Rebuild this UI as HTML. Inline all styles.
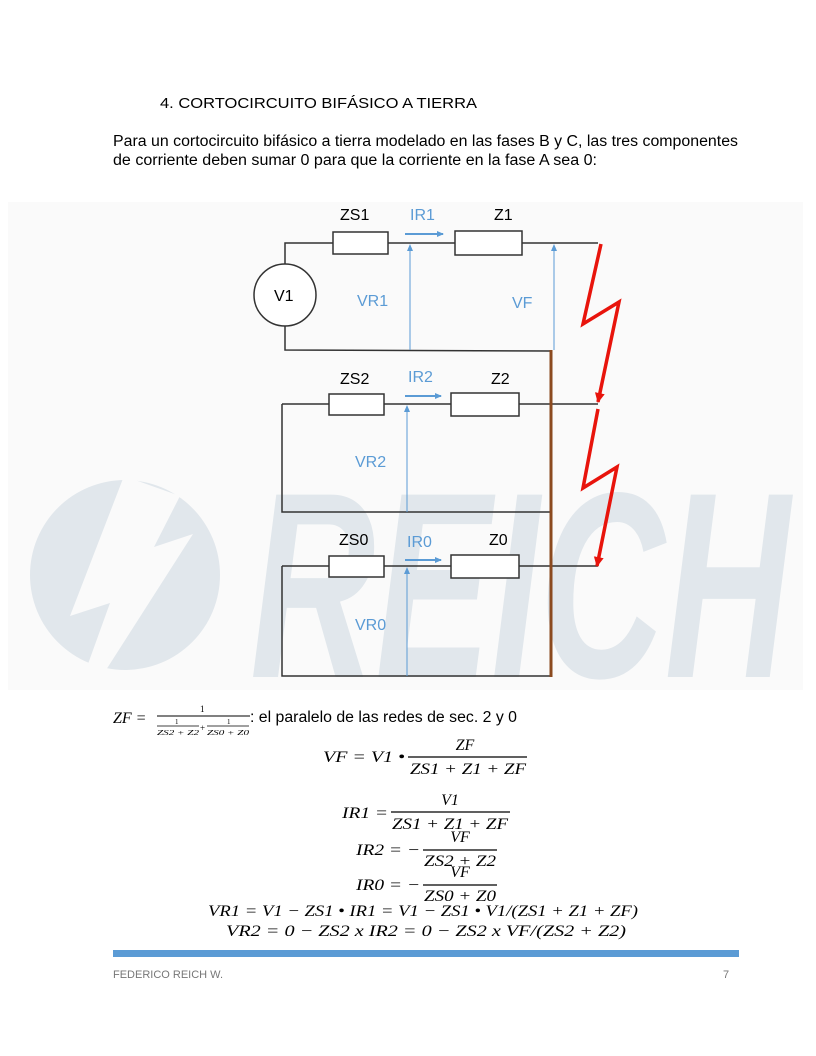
<!DOCTYPE html>
<html><head><meta charset="utf-8"><style>
html,body{margin:0;padding:0;background:#fff;}
body{width:816px;height:1056px;position:relative;overflow:hidden;}
</style></head><body>
<svg width="816" height="1056" viewBox="0 0 816 1056" xmlns="http://www.w3.org/2000/svg" style="position:absolute;left:0;top:0">
<defs>
<marker id="ab" markerWidth="8" markerHeight="8" refX="6" refY="3" orient="auto" markerUnits="userSpaceOnUse"><path d="M0,0 L7,3 L0,6z" fill="#5b9bd5"/></marker>
<marker id="ar" markerWidth="12" markerHeight="12" refX="9" refY="5" orient="auto" markerUnits="userSpaceOnUse"><path d="M0,0 L10,5 L0,10z" fill="#e8140c"/></marker>
</defs>
<g font-family="Liberation Sans, Arial, sans-serif" fill="#000">
<text x="160" y="108" font-size="15" textLength="317" lengthAdjust="spacingAndGlyphs">4.  CORTOCIRCUITO BIFÁSICO A TIERRA</text>
<text x="113" y="146" font-size="15.5" textLength="625" lengthAdjust="spacingAndGlyphs">Para un cortocircuito bifásico a tierra modelado en las fases B y C, las tres componentes</text>
<text x="113" y="165" font-size="15.5" textLength="484" lengthAdjust="spacingAndGlyphs">de corriente deben sumar 0 para que la corriente en la fase A sea 0:</text>
</g>
<rect x="8" y="202" width="795" height="488" fill="#fafafa"/>
<circle cx="125" cy="575" r="95" fill="#e1e7ec"/>
<polygon points="124,476 180,496 154,547 193,534 106,670 88,664 110,603 70,616" fill="#fafafa"/>
<text x="250" y="677" font-family="Liberation Sans, Arial, sans-serif" font-weight="bold" font-style="italic" font-size="265" fill="#e1e7ec" textLength="540" lengthAdjust="spacingAndGlyphs">REICH</text>
<g stroke="#333" stroke-width="1.5" fill="none">
<polyline points="285,264 285,243 333,243"/>
<line x1="388" y1="243" x2="455" y2="243"/>
<line x1="522" y1="243" x2="598" y2="243"/>
<polyline points="285,326 285,350 552,351"/>
<rect x="333" y="232" width="55" height="22" fill="#fff"/>
<rect x="455" y="231" width="67" height="24" fill="#fff"/>
<circle cx="285" cy="295" r="31" fill="#fff"/>
<line x1="282" y1="404" x2="329" y2="404"/>
<line x1="384" y1="404" x2="451" y2="404"/>
<line x1="519" y1="404" x2="598" y2="404"/>
<polyline points="282,404 282,512 550,512"/>
<rect x="329" y="394" width="55" height="21" fill="#fff"/>
<rect x="451" y="393" width="68" height="23" fill="#fff"/>
<line x1="282" y1="566" x2="329" y2="566"/>
<line x1="384" y1="566" x2="451" y2="566"/>
<line x1="519" y1="566" x2="598" y2="566"/>
<polyline points="282,566 282,676 552,676"/>
<rect x="329" y="556" width="55" height="21" fill="#fff"/>
<rect x="451" y="555" width="68" height="23" fill="#fff"/>
</g>
<line x1="551" y1="350" x2="551" y2="677" stroke="#8b4a1f" stroke-width="3"/>
<g stroke="#5b9bd5" stroke-width="1" fill="none">
<line x1="410" y1="350" x2="410" y2="245" marker-end="url(#ab)"/>
<line x1="554" y1="350" x2="554" y2="245" marker-end="url(#ab)"/>
<line x1="407" y1="512" x2="407" y2="406" marker-end="url(#ab)"/>
<line x1="407" y1="676" x2="407" y2="568" marker-end="url(#ab)"/>
<line x1="405" y1="234" x2="443" y2="234" stroke-width="2" marker-end="url(#ab)"/>
<line x1="405" y1="396" x2="441" y2="396" stroke-width="2" marker-end="url(#ab)"/>
<line x1="405" y1="560" x2="441" y2="560" stroke-width="2" marker-end="url(#ab)"/>
</g>
<g stroke="#e8140c" stroke-width="3.5" fill="none" stroke-linejoin="miter">
<polyline points="601,244 583,324 619,302 598,402" marker-end="url(#ar)"/>
<polyline points="598,409 583,488 617,467 597,566" marker-end="url(#ar)"/>
</g>
<g font-family="Liberation Sans, Arial, sans-serif" font-size="16">
<text x="340" y="220" fill="#000">ZS1</text>
<text x="410" y="220" fill="#5b9bd5">IR1</text>
<text x="494" y="220">Z1</text>
<text x="274" y="301">V1</text>
<text x="357" y="306" fill="#5b9bd5">VR1</text>
<text x="512" y="308" fill="#5b9bd5">VF</text>
<text x="340" y="384">ZS2</text>
<text x="408" y="382" fill="#5b9bd5">IR2</text>
<text x="491" y="384">Z2</text>
<text x="355" y="467" fill="#5b9bd5">VR2</text>
<text x="339" y="545">ZS0</text>
<text x="407" y="547" fill="#5b9bd5">IR0</text>
<text x="489" y="545">Z0</text>
<text x="355" y="630" fill="#5b9bd5">VR0</text>
</g>
<g font-family="Liberation Serif, DejaVu Serif, serif" font-style="italic" font-size="16" fill="#000">
<text x="113" y="723">ZF  =</text>
<text x="200" y="712" font-size="9" font-style="normal">1</text>
<line x1="157" y1="716" x2="250" y2="716" stroke="#000" stroke-width="1"/>
<text x="175" y="724" font-size="7" font-style="normal">1</text>
<line x1="157" y1="726" x2="199" y2="726" stroke="#000" stroke-width="0.7"/>
<text x="157" y="735" font-size="7.5" textLength="42" lengthAdjust="spacingAndGlyphs">ZS2 + Z2</text>
<text x="200" y="731" font-size="9" font-style="normal">+</text>
<text x="227" y="724" font-size="7" font-style="normal">1</text>
<line x1="207" y1="726" x2="249" y2="726" stroke="#000" stroke-width="0.7"/>
<text x="207" y="735" font-size="7.5" textLength="42" lengthAdjust="spacingAndGlyphs">ZS0 + Z0</text>
<text x="250" y="722" font-family="Liberation Sans, Arial, sans-serif" font-style="normal" font-size="15.5" textLength="267" lengthAdjust="spacingAndGlyphs">: el paralelo de las redes de sec. 2 y 0</text>

<text x="323" y="762" textLength="82" lengthAdjust="spacingAndGlyphs">VF  =  V1 •</text>
<text x="465" y="750" text-anchor="middle">ZF</text>
<line x1="408" y1="757" x2="527" y2="757" stroke="#000" stroke-width="1.2"/>
<text x="410" y="774" textLength="116" lengthAdjust="spacingAndGlyphs">ZS1 + Z1 + ZF</text>

<text x="342" y="818" textLength="46" lengthAdjust="spacingAndGlyphs">IR1  =</text>
<text x="450" y="805" text-anchor="middle">V1</text>
<line x1="391" y1="812" x2="510" y2="812" stroke="#000" stroke-width="1.2"/>
<text x="392" y="829" textLength="116" lengthAdjust="spacingAndGlyphs">ZS1 + Z1 + ZF</text>

<text x="356" y="855" textLength="64" lengthAdjust="spacingAndGlyphs">IR2  =  −</text>
<text x="460" y="842" text-anchor="middle">VF</text>
<line x1="423" y1="850" x2="497" y2="850" stroke="#000" stroke-width="1.2"/>
<text x="424" y="866" textLength="72" lengthAdjust="spacingAndGlyphs">ZS2 + Z2</text>

<text x="356" y="890" textLength="64" lengthAdjust="spacingAndGlyphs">IR0  =  −</text>
<text x="460" y="877" text-anchor="middle">VF</text>
<line x1="423" y1="885" x2="497" y2="885" stroke="#000" stroke-width="1.2"/>
<text x="424" y="901" textLength="72" lengthAdjust="spacingAndGlyphs">ZS0 + Z0</text>

<text x="208" y="916" textLength="430" lengthAdjust="spacingAndGlyphs">VR1 = V1 − ZS1 • IR1 = V1 − ZS1 • V1/(ZS1 + Z1 + ZF)</text>
<text x="226" y="936" textLength="400" lengthAdjust="spacingAndGlyphs">VR2 = 0   − ZS2 x IR2 =  0 − ZS2 x VF/(ZS2 + Z2)</text>
</g>
<rect x="113" y="950" width="626" height="7" fill="#5b9bd5"/>
<g font-family="Liberation Sans, Arial, sans-serif" font-size="11" fill="#777">
<text x="113" y="978">FEDERICO REICH W.</text>
<text x="723" y="978">7</text>
</g>
</svg>
</body></html>
